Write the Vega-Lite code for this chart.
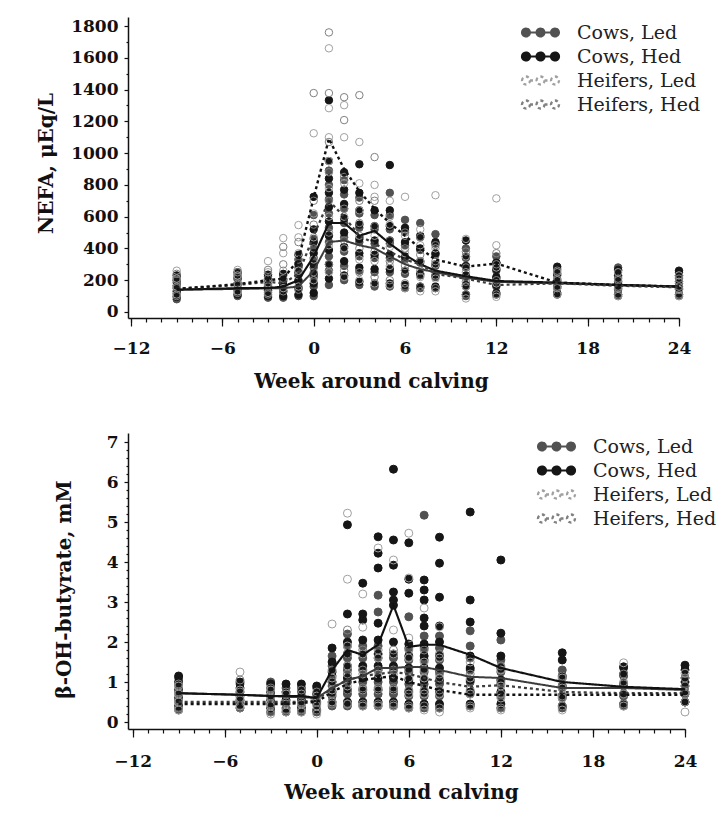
{
"$schema":"https://vega.github.io/schema/vega-lite/v6.json",
"padding":{"left":35,"top":17,"right":5,"bottom":5},
"background":"white",
"config":{"view":{"stroke":null},"font":"DejaVu Serif",
"axis":{"domainColor":"#111","domainWidth":1.5,"tickColor":"#111","tickWidth":1.2,"grid":false,"labelFont":"DejaVu Serif","labelFontWeight":"bold","labelFontSize":17,"labelColor":"#111","titleFont":"DejaVu Serif","titleFontWeight":"bold","titleFontSize":20,"titleColor":"#111","labelOverlap":false,"labelFlush":false}},
"datasets":{
"np":[
{"w":-9,"g":"CL","v":80},{"w":-9,"g":"CL","v":115},{"w":-9,"g":"CL","v":150},{"w":-9,"g":"CL","v":185},{"w":-9,"g":"CL","v":215},
{"w":-5,"g":"CL","v":100},{"w":-5,"g":"CL","v":135},{"w":-5,"g":"CL","v":170},{"w":-5,"g":"CL","v":205},{"w":-5,"g":"CL","v":235},
{"w":-3,"g":"CL","v":90},{"w":-3,"g":"CL","v":125},{"w":-3,"g":"CL","v":160},{"w":-3,"g":"CL","v":195},{"w":-3,"g":"CL","v":225},
{"w":-2,"g":"CL","v":90},{"w":-2,"g":"CL","v":125},{"w":-2,"g":"CL","v":160},{"w":-2,"g":"CL","v":195},{"w":-2,"g":"CL","v":230},
{"w":-1,"g":"CL","v":100},{"w":-1,"g":"CL","v":145},{"w":-1,"g":"CL","v":190},{"w":-1,"g":"CL","v":235},{"w":-1,"g":"CL","v":280},{"w":-1,"g":"CL","v":330},
{"w":0,"g":"CL","v":100},{"w":0,"g":"CL","v":160},{"w":0,"g":"CL","v":220},{"w":0,"g":"CL","v":280},{"w":0,"g":"CL","v":340},{"w":0,"g":"CL","v":400},{"w":0,"g":"CL","v":460},{"w":0,"g":"CL","v":610},
{"w":1,"g":"CL","v":170},{"w":1,"g":"CL","v":260},{"w":1,"g":"CL","v":350},{"w":1,"g":"CL","v":440},{"w":1,"g":"CL","v":530},{"w":1,"g":"CL","v":620},{"w":1,"g":"CL","v":710},{"w":1,"g":"CL","v":800},{"w":1,"g":"CL","v":890},
{"w":2,"g":"CL","v":200},{"w":2,"g":"CL","v":290},{"w":2,"g":"CL","v":380},{"w":2,"g":"CL","v":470},{"w":2,"g":"CL","v":560},{"w":2,"g":"CL","v":650},{"w":2,"g":"CL","v":740},{"w":2,"g":"CL","v":830},
{"w":3,"g":"CL","v":170},{"w":3,"g":"CL","v":260},{"w":3,"g":"CL","v":350},{"w":3,"g":"CL","v":440},{"w":3,"g":"CL","v":530},{"w":3,"g":"CL","v":620},{"w":3,"g":"CL","v":720},
{"w":4,"g":"CL","v":160},{"w":4,"g":"CL","v":250},{"w":4,"g":"CL","v":340},{"w":4,"g":"CL","v":430},{"w":4,"g":"CL","v":520},{"w":4,"g":"CL","v":610},
{"w":5,"g":"CL","v":160},{"w":5,"g":"CL","v":250},{"w":5,"g":"CL","v":340},{"w":5,"g":"CL","v":430},{"w":5,"g":"CL","v":520},{"w":5,"g":"CL","v":610},{"w":5,"g":"CL","v":750},
{"w":6,"g":"CL","v":150},{"w":6,"g":"CL","v":240},{"w":6,"g":"CL","v":330},{"w":6,"g":"CL","v":420},{"w":6,"g":"CL","v":510},{"w":6,"g":"CL","v":580},
{"w":7,"g":"CL","v":150},{"w":7,"g":"CL","v":230},{"w":7,"g":"CL","v":310},{"w":7,"g":"CL","v":390},{"w":7,"g":"CL","v":470},{"w":7,"g":"CL","v":560},
{"w":8,"g":"CL","v":150},{"w":8,"g":"CL","v":220},{"w":8,"g":"CL","v":290},{"w":8,"g":"CL","v":360},{"w":8,"g":"CL","v":430},{"w":8,"g":"CL","v":490},
{"w":10,"g":"CL","v":100},{"w":10,"g":"CL","v":160},{"w":10,"g":"CL","v":220},{"w":10,"g":"CL","v":280},{"w":10,"g":"CL","v":340},{"w":10,"g":"CL","v":400},
{"w":12,"g":"CL","v":110},{"w":12,"g":"CL","v":160},{"w":12,"g":"CL","v":210},{"w":12,"g":"CL","v":260},{"w":12,"g":"CL","v":310},{"w":12,"g":"CL","v":350},
{"w":16,"g":"CL","v":110},{"w":16,"g":"CL","v":150},{"w":16,"g":"CL","v":190},{"w":16,"g":"CL","v":230},{"w":16,"g":"CL","v":270},
{"w":20,"g":"CL","v":100},{"w":20,"g":"CL","v":140},{"w":20,"g":"CL","v":180},{"w":20,"g":"CL","v":220},{"w":20,"g":"CL","v":260},{"w":20,"g":"CL","v":280},
{"w":24,"g":"CL","v":100},{"w":24,"g":"CL","v":140},{"w":24,"g":"CL","v":180},{"w":24,"g":"CL","v":220},{"w":24,"g":"CL","v":250},
{"w":-9,"g":"CH","v":95},{"w":-9,"g":"CH","v":130},{"w":-9,"g":"CH","v":165},{"w":-9,"g":"CH","v":200},{"w":-9,"g":"CH","v":230},
{"w":-5,"g":"CH","v":110},{"w":-5,"g":"CH","v":145},{"w":-5,"g":"CH","v":180},{"w":-5,"g":"CH","v":215},{"w":-5,"g":"CH","v":250},
{"w":-3,"g":"CH","v":100},{"w":-3,"g":"CH","v":135},{"w":-3,"g":"CH","v":170},{"w":-3,"g":"CH","v":205},{"w":-3,"g":"CH","v":235},
{"w":-2,"g":"CH","v":100},{"w":-2,"g":"CH","v":135},{"w":-2,"g":"CH","v":170},{"w":-2,"g":"CH","v":205},{"w":-2,"g":"CH","v":240},
{"w":-1,"g":"CH","v":110},{"w":-1,"g":"CH","v":155},{"w":-1,"g":"CH","v":200},{"w":-1,"g":"CH","v":250},{"w":-1,"g":"CH","v":300},{"w":-1,"g":"CH","v":360},
{"w":0,"g":"CH","v":120},{"w":0,"g":"CH","v":180},{"w":0,"g":"CH","v":240},{"w":0,"g":"CH","v":300},{"w":0,"g":"CH","v":370},{"w":0,"g":"CH","v":440},{"w":0,"g":"CH","v":520},{"w":0,"g":"CH","v":725},
{"w":1,"g":"CH","v":210},{"w":1,"g":"CH","v":300},{"w":1,"g":"CH","v":390},{"w":1,"g":"CH","v":480},{"w":1,"g":"CH","v":570},{"w":1,"g":"CH","v":660},{"w":1,"g":"CH","v":750},{"w":1,"g":"CH","v":840},{"w":1,"g":"CH","v":950},{"w":1,"g":"CH","v":1333},
{"w":2,"g":"CH","v":230},{"w":2,"g":"CH","v":320},{"w":2,"g":"CH","v":410},{"w":2,"g":"CH","v":500},{"w":2,"g":"CH","v":590},{"w":2,"g":"CH","v":680},{"w":2,"g":"CH","v":770},{"w":2,"g":"CH","v":880},
{"w":3,"g":"CH","v":190},{"w":3,"g":"CH","v":280},{"w":3,"g":"CH","v":370},{"w":3,"g":"CH","v":460},{"w":3,"g":"CH","v":550},{"w":3,"g":"CH","v":640},{"w":3,"g":"CH","v":750},{"w":3,"g":"CH","v":930},
{"w":4,"g":"CH","v":180},{"w":4,"g":"CH","v":270},{"w":4,"g":"CH","v":360},{"w":4,"g":"CH","v":450},{"w":4,"g":"CH","v":540},{"w":4,"g":"CH","v":640},
{"w":5,"g":"CH","v":180},{"w":5,"g":"CH","v":270},{"w":5,"g":"CH","v":360},{"w":5,"g":"CH","v":450},{"w":5,"g":"CH","v":540},{"w":5,"g":"CH","v":640},{"w":5,"g":"CH","v":925},
{"w":6,"g":"CH","v":170},{"w":6,"g":"CH","v":260},{"w":6,"g":"CH","v":350},{"w":6,"g":"CH","v":440},{"w":6,"g":"CH","v":530},
{"w":7,"g":"CH","v":160},{"w":7,"g":"CH","v":240},{"w":7,"g":"CH","v":320},{"w":7,"g":"CH","v":400},{"w":7,"g":"CH","v":480},
{"w":8,"g":"CH","v":160},{"w":8,"g":"CH","v":230},{"w":8,"g":"CH","v":300},{"w":8,"g":"CH","v":370},{"w":8,"g":"CH","v":440},
{"w":10,"g":"CH","v":110},{"w":10,"g":"CH","v":170},{"w":10,"g":"CH","v":230},{"w":10,"g":"CH","v":290},{"w":10,"g":"CH","v":350},{"w":10,"g":"CH","v":450},
{"w":12,"g":"CH","v":120},{"w":12,"g":"CH","v":170},{"w":12,"g":"CH","v":220},{"w":12,"g":"CH","v":270},{"w":12,"g":"CH","v":310},
{"w":16,"g":"CH","v":120},{"w":16,"g":"CH","v":160},{"w":16,"g":"CH","v":200},{"w":16,"g":"CH","v":240},{"w":16,"g":"CH","v":285},
{"w":20,"g":"CH","v":110},{"w":20,"g":"CH","v":150},{"w":20,"g":"CH","v":190},{"w":20,"g":"CH","v":230},{"w":20,"g":"CH","v":265},
{"w":24,"g":"CH","v":110},{"w":24,"g":"CH","v":150},{"w":24,"g":"CH","v":190},{"w":24,"g":"CH","v":230},{"w":24,"g":"CH","v":260},
{"w":-9,"g":"HL","v":110},{"w":-9,"g":"HL","v":160},{"w":-9,"g":"HL","v":210},{"w":-9,"g":"HL","v":260},
{"w":-5,"g":"HL","v":130},{"w":-5,"g":"HL","v":180},{"w":-5,"g":"HL","v":230},{"w":-5,"g":"HL","v":265},
{"w":-3,"g":"HL","v":120},{"w":-3,"g":"HL","v":180},{"w":-3,"g":"HL","v":250},{"w":-3,"g":"HL","v":320},
{"w":-2,"g":"HL","v":150},{"w":-2,"g":"HL","v":260},{"w":-2,"g":"HL","v":370},{"w":-2,"g":"HL","v":465},
{"w":-1,"g":"HL","v":160},{"w":-1,"g":"HL","v":260},{"w":-1,"g":"HL","v":370},{"w":-1,"g":"HL","v":470},{"w":-1,"g":"HL","v":547},
{"w":0,"g":"HL","v":200},{"w":0,"g":"HL","v":330},{"w":0,"g":"HL","v":470},{"w":0,"g":"HL","v":620},{"w":0,"g":"HL","v":1125},
{"w":1,"g":"HL","v":250},{"w":1,"g":"HL","v":420},{"w":1,"g":"HL","v":600},{"w":1,"g":"HL","v":780},{"w":1,"g":"HL","v":950},{"w":1,"g":"HL","v":1100},{"w":1,"g":"HL","v":1283},{"w":1,"g":"HL","v":1660},
{"w":2,"g":"HL","v":220},{"w":2,"g":"HL","v":400},{"w":2,"g":"HL","v":600},{"w":2,"g":"HL","v":811},{"w":2,"g":"HL","v":1100},{"w":2,"g":"HL","v":1302},
{"w":3,"g":"HL","v":200},{"w":3,"g":"HL","v":330},{"w":3,"g":"HL","v":480},{"w":3,"g":"HL","v":640},{"w":3,"g":"HL","v":810},{"w":3,"g":"HL","v":1070},
{"w":4,"g":"HL","v":180},{"w":4,"g":"HL","v":320},{"w":4,"g":"HL","v":480},{"w":4,"g":"HL","v":725},{"w":4,"g":"HL","v":800},
{"w":5,"g":"HL","v":170},{"w":5,"g":"HL","v":290},{"w":5,"g":"HL","v":410},{"w":5,"g":"HL","v":550},{"w":5,"g":"HL","v":700},
{"w":6,"g":"HL","v":150},{"w":6,"g":"HL","v":260},{"w":6,"g":"HL","v":370},{"w":6,"g":"HL","v":480},{"w":6,"g":"HL","v":725},
{"w":7,"g":"HL","v":130},{"w":7,"g":"HL","v":220},{"w":7,"g":"HL","v":320},{"w":7,"g":"HL","v":420},{"w":7,"g":"HL","v":520},
{"w":8,"g":"HL","v":130},{"w":8,"g":"HL","v":210},{"w":8,"g":"HL","v":300},{"w":8,"g":"HL","v":400},{"w":8,"g":"HL","v":735},
{"w":10,"g":"HL","v":85},{"w":10,"g":"HL","v":160},{"w":10,"g":"HL","v":250},{"w":10,"g":"HL","v":350},{"w":10,"g":"HL","v":460},
{"w":12,"g":"HL","v":95},{"w":12,"g":"HL","v":180},{"w":12,"g":"HL","v":280},{"w":12,"g":"HL","v":420},{"w":12,"g":"HL","v":715},
{"w":16,"g":"HL","v":110},{"w":16,"g":"HL","v":150},{"w":16,"g":"HL","v":200},{"w":16,"g":"HL","v":250},
{"w":20,"g":"HL","v":100},{"w":20,"g":"HL","v":150},{"w":20,"g":"HL","v":200},{"w":20,"g":"HL","v":250},
{"w":24,"g":"HL","v":100},{"w":24,"g":"HL","v":140},{"w":24,"g":"HL","v":190},{"w":24,"g":"HL","v":230},
{"w":-9,"g":"HH","v":100},{"w":-9,"g":"HH","v":150},{"w":-9,"g":"HH","v":200},{"w":-9,"g":"HH","v":240},
{"w":-5,"g":"HH","v":120},{"w":-5,"g":"HH","v":170},{"w":-5,"g":"HH","v":220},{"w":-5,"g":"HH","v":250},
{"w":-3,"g":"HH","v":110},{"w":-3,"g":"HH","v":160},{"w":-3,"g":"HH","v":210},{"w":-3,"g":"HH","v":265},
{"w":-2,"g":"HH","v":130},{"w":-2,"g":"HH","v":210},{"w":-2,"g":"HH","v":300},{"w":-2,"g":"HH","v":410},
{"w":-1,"g":"HH","v":140},{"w":-1,"g":"HH","v":230},{"w":-1,"g":"HH","v":330},{"w":-1,"g":"HH","v":440},
{"w":0,"g":"HH","v":250},{"w":0,"g":"HH","v":400},{"w":0,"g":"HH","v":550},{"w":0,"g":"HH","v":700},{"w":0,"g":"HH","v":1378},
{"w":1,"g":"HH","v":300},{"w":1,"g":"HH","v":500},{"w":1,"g":"HH","v":700},{"w":1,"g":"HH","v":880},{"w":1,"g":"HH","v":1070},{"w":1,"g":"HH","v":1378},{"w":1,"g":"HH","v":1760},
{"w":2,"g":"HH","v":260},{"w":2,"g":"HH","v":450},{"w":2,"g":"HH","v":650},{"w":2,"g":"HH","v":850},{"w":2,"g":"HH","v":1208},{"w":2,"g":"HH","v":1352},
{"w":3,"g":"HH","v":250},{"w":3,"g":"HH","v":400},{"w":3,"g":"HH","v":560},{"w":3,"g":"HH","v":700},{"w":3,"g":"HH","v":1365},
{"w":4,"g":"HH","v":220},{"w":4,"g":"HH","v":380},{"w":4,"g":"HH","v":540},{"w":4,"g":"HH","v":700},{"w":4,"g":"HH","v":975},
{"w":5,"g":"HH","v":200},{"w":5,"g":"HH","v":320},{"w":5,"g":"HH","v":450},{"w":5,"g":"HH","v":600},
{"w":6,"g":"HH","v":180},{"w":6,"g":"HH","v":290},{"w":6,"g":"HH","v":400},{"w":6,"g":"HH","v":500},
{"w":7,"g":"HH","v":160},{"w":7,"g":"HH","v":260},{"w":7,"g":"HH","v":360},{"w":7,"g":"HH","v":470},
{"w":8,"g":"HH","v":150},{"w":8,"g":"HH","v":230},{"w":8,"g":"HH","v":320},{"w":8,"g":"HH","v":420},
{"w":10,"g":"HH","v":110},{"w":10,"g":"HH","v":190},{"w":10,"g":"HH","v":280},{"w":10,"g":"HH","v":380},
{"w":12,"g":"HH","v":110},{"w":12,"g":"HH","v":200},{"w":12,"g":"HH","v":300},{"w":12,"g":"HH","v":370},
{"w":16,"g":"HH","v":110},{"w":16,"g":"HH","v":160},{"w":16,"g":"HH","v":210},{"w":16,"g":"HH","v":260},
{"w":20,"g":"HH","v":110},{"w":20,"g":"HH","v":160},{"w":20,"g":"HH","v":210},
{"w":24,"g":"HH","v":110},{"w":24,"g":"HH","v":160},{"w":24,"g":"HH","v":210}
],
"nm":[
{"w":-9,"g":"CL","v":140},{"w":-5,"g":"CL","v":145},{"w":-3,"g":"CL","v":150},{"w":-2,"g":"CL","v":150},{"w":-1,"g":"CL","v":160},{"w":0,"g":"CL","v":260},{"w":1,"g":"CL","v":440},{"w":2,"g":"CL","v":450},{"w":3,"g":"CL","v":420},{"w":4,"g":"CL","v":400},{"w":5,"g":"CL","v":350},{"w":6,"g":"CL","v":300},{"w":7,"g":"CL","v":270},{"w":8,"g":"CL","v":250},{"w":10,"g":"CL","v":215},{"w":12,"g":"CL","v":190},{"w":16,"g":"CL","v":180},{"w":20,"g":"CL","v":170},{"w":24,"g":"CL","v":160},
{"w":-9,"g":"CH","v":140},{"w":-5,"g":"CH","v":150},{"w":-3,"g":"CH","v":150},{"w":-2,"g":"CH","v":160},{"w":-1,"g":"CH","v":200},{"w":0,"g":"CH","v":350},{"w":1,"g":"CH","v":560},{"w":2,"g":"CH","v":560},{"w":3,"g":"CH","v":480},{"w":4,"g":"CH","v":510},{"w":5,"g":"CH","v":430},{"w":6,"g":"CH","v":360},{"w":7,"g":"CH","v":300},{"w":8,"g":"CH","v":260},{"w":10,"g":"CH","v":225},{"w":12,"g":"CH","v":195},{"w":16,"g":"CH","v":185},{"w":20,"g":"CH","v":170},{"w":24,"g":"CH","v":160},
{"w":-9,"g":"HL","v":145},{"w":-5,"g":"HL","v":170},{"w":-3,"g":"HL","v":190},{"w":-2,"g":"HL","v":180},{"w":-1,"g":"HL","v":240},{"w":0,"g":"HL","v":480},{"w":1,"g":"HL","v":700},{"w":2,"g":"HL","v":600},{"w":3,"g":"HL","v":480},{"w":4,"g":"HL","v":430},{"w":5,"g":"HL","v":380},{"w":6,"g":"HL","v":330},{"w":7,"g":"HL","v":300},{"w":8,"g":"HL","v":240},{"w":10,"g":"HL","v":210},{"w":12,"g":"HL","v":170},{"w":16,"g":"HL","v":180},{"w":20,"g":"HL","v":165},{"w":24,"g":"HL","v":155},
{"w":-9,"g":"HH","v":145},{"w":-5,"g":"HH","v":175},{"w":-3,"g":"HH","v":200},{"w":-2,"g":"HH","v":210},{"w":-1,"g":"HH","v":330},{"w":0,"g":"HH","v":720},{"w":1,"g":"HH","v":1090},{"w":2,"g":"HH","v":900},{"w":3,"g":"HH","v":760},{"w":4,"g":"HH","v":650},{"w":5,"g":"HH","v":560},{"w":6,"g":"HH","v":480},{"w":7,"g":"HH","v":400},{"w":8,"g":"HH","v":330},{"w":10,"g":"HH","v":285},{"w":12,"g":"HH","v":305},{"w":16,"g":"HH","v":185},{"w":20,"g":"HH","v":170},{"w":24,"g":"HH","v":160}
],
"bp":[
{"w":-9,"g":"CL","v":0.3},{"w":-9,"g":"CL","v":0.5},{"w":-9,"g":"CL","v":0.7},{"w":-9,"g":"CL","v":0.9},{"w":-9,"g":"CL","v":1.1},
{"w":-5,"g":"CL","v":0.35},{"w":-5,"g":"CL","v":0.55},{"w":-5,"g":"CL","v":0.75},{"w":-5,"g":"CL","v":0.95},
{"w":-3,"g":"CL","v":0.25},{"w":-3,"g":"CL","v":0.45},{"w":-3,"g":"CL","v":0.65},{"w":-3,"g":"CL","v":0.85},{"w":-3,"g":"CL","v":1.0},
{"w":-2,"g":"CL","v":0.25},{"w":-2,"g":"CL","v":0.45},{"w":-2,"g":"CL","v":0.65},{"w":-2,"g":"CL","v":0.85},
{"w":-1,"g":"CL","v":0.25},{"w":-1,"g":"CL","v":0.45},{"w":-1,"g":"CL","v":0.65},{"w":-1,"g":"CL","v":0.85},
{"w":0,"g":"CL","v":0.25},{"w":0,"g":"CL","v":0.45},{"w":0,"g":"CL","v":0.65},{"w":0,"g":"CL","v":0.85},
{"w":1,"g":"CL","v":0.4},{"w":1,"g":"CL","v":0.65},{"w":1,"g":"CL","v":0.9},{"w":1,"g":"CL","v":1.15},{"w":1,"g":"CL","v":1.4},{"w":1,"g":"CL","v":1.65},
{"w":2,"g":"CL","v":0.4},{"w":2,"g":"CL","v":0.7},{"w":2,"g":"CL","v":1.0},{"w":2,"g":"CL","v":1.3},{"w":2,"g":"CL","v":1.6},{"w":2,"g":"CL","v":1.9},{"w":2,"g":"CL","v":2.2},
{"w":3,"g":"CL","v":0.4},{"w":3,"g":"CL","v":0.7},{"w":3,"g":"CL","v":1.0},{"w":3,"g":"CL","v":1.3},{"w":3,"g":"CL","v":1.6},{"w":3,"g":"CL","v":1.9},
{"w":4,"g":"CL","v":0.4},{"w":4,"g":"CL","v":0.7},{"w":4,"g":"CL","v":1.0},{"w":4,"g":"CL","v":1.3},{"w":4,"g":"CL","v":1.6},{"w":4,"g":"CL","v":1.9},{"w":4,"g":"CL","v":2.75},{"w":4,"g":"CL","v":3.17},
{"w":5,"g":"CL","v":0.4},{"w":5,"g":"CL","v":0.7},{"w":5,"g":"CL","v":1.0},{"w":5,"g":"CL","v":1.3},{"w":5,"g":"CL","v":1.6},
{"w":6,"g":"CL","v":0.35},{"w":6,"g":"CL","v":0.65},{"w":6,"g":"CL","v":0.95},{"w":6,"g":"CL","v":1.25},{"w":6,"g":"CL","v":1.55},{"w":6,"g":"CL","v":1.85},{"w":6,"g":"CL","v":2.63},
{"w":7,"g":"CL","v":0.35},{"w":7,"g":"CL","v":0.65},{"w":7,"g":"CL","v":0.95},{"w":7,"g":"CL","v":1.25},{"w":7,"g":"CL","v":1.55},{"w":7,"g":"CL","v":1.85},{"w":7,"g":"CL","v":2.15},{"w":7,"g":"CL","v":5.17},
{"w":8,"g":"CL","v":0.35},{"w":8,"g":"CL","v":0.65},{"w":8,"g":"CL","v":0.95},{"w":8,"g":"CL","v":1.25},{"w":8,"g":"CL","v":1.55},{"w":8,"g":"CL","v":1.85},{"w":8,"g":"CL","v":2.15},
{"w":10,"g":"CL","v":0.4},{"w":10,"g":"CL","v":0.7},{"w":10,"g":"CL","v":1.0},{"w":10,"g":"CL","v":1.3},{"w":10,"g":"CL","v":1.6},{"w":10,"g":"CL","v":1.9},{"w":10,"g":"CL","v":2.28},
{"w":12,"g":"CL","v":0.35},{"w":12,"g":"CL","v":0.65},{"w":12,"g":"CL","v":0.95},{"w":12,"g":"CL","v":1.25},{"w":12,"g":"CL","v":1.55},{"w":12,"g":"CL","v":2.05},
{"w":16,"g":"CL","v":0.35},{"w":16,"g":"CL","v":0.6},{"w":16,"g":"CL","v":0.85},{"w":16,"g":"CL","v":1.1},{"w":16,"g":"CL","v":1.3},
{"w":20,"g":"CL","v":0.4},{"w":20,"g":"CL","v":0.65},{"w":20,"g":"CL","v":0.9},{"w":20,"g":"CL","v":1.15},{"w":20,"g":"CL","v":1.35},
{"w":24,"g":"CL","v":0.5},{"w":24,"g":"CL","v":0.7},{"w":24,"g":"CL","v":0.9},{"w":24,"g":"CL","v":1.1},
{"w":-9,"g":"CH","v":0.4},{"w":-9,"g":"CH","v":0.6},{"w":-9,"g":"CH","v":0.8},{"w":-9,"g":"CH","v":1.0},{"w":-9,"g":"CH","v":1.15},
{"w":-5,"g":"CH","v":0.45},{"w":-5,"g":"CH","v":0.65},{"w":-5,"g":"CH","v":0.85},{"w":-5,"g":"CH","v":1.0},
{"w":-3,"g":"CH","v":0.35},{"w":-3,"g":"CH","v":0.55},{"w":-3,"g":"CH","v":0.75},{"w":-3,"g":"CH","v":0.95},
{"w":-2,"g":"CH","v":0.35},{"w":-2,"g":"CH","v":0.55},{"w":-2,"g":"CH","v":0.75},{"w":-2,"g":"CH","v":0.95},
{"w":-1,"g":"CH","v":0.35},{"w":-1,"g":"CH","v":0.55},{"w":-1,"g":"CH","v":0.75},{"w":-1,"g":"CH","v":0.95},
{"w":0,"g":"CH","v":0.3},{"w":0,"g":"CH","v":0.5},{"w":0,"g":"CH","v":0.7},{"w":0,"g":"CH","v":0.9},
{"w":1,"g":"CH","v":0.5},{"w":1,"g":"CH","v":0.75},{"w":1,"g":"CH","v":1.0},{"w":1,"g":"CH","v":1.25},{"w":1,"g":"CH","v":1.5},{"w":1,"g":"CH","v":1.85},
{"w":2,"g":"CH","v":0.5},{"w":2,"g":"CH","v":0.8},{"w":2,"g":"CH","v":1.1},{"w":2,"g":"CH","v":1.4},{"w":2,"g":"CH","v":1.7},{"w":2,"g":"CH","v":2.0},{"w":2,"g":"CH","v":2.7},{"w":2,"g":"CH","v":4.93},
{"w":3,"g":"CH","v":0.5},{"w":3,"g":"CH","v":0.8},{"w":3,"g":"CH","v":1.1},{"w":3,"g":"CH","v":1.4},{"w":3,"g":"CH","v":1.7},{"w":3,"g":"CH","v":2.05},{"w":3,"g":"CH","v":2.55},{"w":3,"g":"CH","v":2.7},{"w":3,"g":"CH","v":3.47},
{"w":4,"g":"CH","v":0.5},{"w":4,"g":"CH","v":0.8},{"w":4,"g":"CH","v":1.1},{"w":4,"g":"CH","v":1.4},{"w":4,"g":"CH","v":1.7},{"w":4,"g":"CH","v":2.05},{"w":4,"g":"CH","v":2.47},{"w":4,"g":"CH","v":3.85},{"w":4,"g":"CH","v":4.22},{"w":4,"g":"CH","v":4.63},
{"w":5,"g":"CH","v":0.5},{"w":5,"g":"CH","v":0.8},{"w":5,"g":"CH","v":1.1},{"w":5,"g":"CH","v":1.4},{"w":5,"g":"CH","v":1.7},{"w":5,"g":"CH","v":2.0},{"w":5,"g":"CH","v":2.92},{"w":5,"g":"CH","v":3.05},{"w":5,"g":"CH","v":3.25},{"w":5,"g":"CH","v":3.92},{"w":5,"g":"CH","v":4.55},{"w":5,"g":"CH","v":6.32},
{"w":6,"g":"CH","v":0.45},{"w":6,"g":"CH","v":0.75},{"w":6,"g":"CH","v":1.05},{"w":6,"g":"CH","v":1.35},{"w":6,"g":"CH","v":1.65},{"w":6,"g":"CH","v":1.95},{"w":6,"g":"CH","v":3.22},{"w":6,"g":"CH","v":3.57},{"w":6,"g":"CH","v":4.48},
{"w":7,"g":"CH","v":0.45},{"w":7,"g":"CH","v":0.75},{"w":7,"g":"CH","v":1.05},{"w":7,"g":"CH","v":1.35},{"w":7,"g":"CH","v":1.65},{"w":7,"g":"CH","v":1.95},{"w":7,"g":"CH","v":2.4},{"w":7,"g":"CH","v":2.6},{"w":7,"g":"CH","v":3.05},{"w":7,"g":"CH","v":3.3},{"w":7,"g":"CH","v":3.55},
{"w":8,"g":"CH","v":0.45},{"w":8,"g":"CH","v":0.75},{"w":8,"g":"CH","v":1.05},{"w":8,"g":"CH","v":1.35},{"w":8,"g":"CH","v":1.65},{"w":8,"g":"CH","v":2.0},{"w":8,"g":"CH","v":2.4},{"w":8,"g":"CH","v":3.12},{"w":8,"g":"CH","v":3.97},{"w":8,"g":"CH","v":4.62},
{"w":10,"g":"CH","v":0.45},{"w":10,"g":"CH","v":0.75},{"w":10,"g":"CH","v":1.05},{"w":10,"g":"CH","v":1.35},{"w":10,"g":"CH","v":1.65},{"w":10,"g":"CH","v":2.5},{"w":10,"g":"CH","v":3.05},{"w":10,"g":"CH","v":5.25},
{"w":12,"g":"CH","v":0.45},{"w":12,"g":"CH","v":0.75},{"w":12,"g":"CH","v":1.05},{"w":12,"g":"CH","v":1.35},{"w":12,"g":"CH","v":1.65},{"w":12,"g":"CH","v":2.22},{"w":12,"g":"CH","v":4.05},
{"w":16,"g":"CH","v":0.4},{"w":16,"g":"CH","v":0.65},{"w":16,"g":"CH","v":0.9},{"w":16,"g":"CH","v":1.15},{"w":16,"g":"CH","v":1.55},{"w":16,"g":"CH","v":1.73},
{"w":20,"g":"CH","v":0.45},{"w":20,"g":"CH","v":0.7},{"w":20,"g":"CH","v":0.95},{"w":20,"g":"CH","v":1.2},{"w":20,"g":"CH","v":1.38},
{"w":24,"g":"CH","v":0.5},{"w":24,"g":"CH","v":0.75},{"w":24,"g":"CH","v":1.0},{"w":24,"g":"CH","v":1.3},{"w":24,"g":"CH","v":1.42},
{"w":-9,"g":"HL","v":0.3},{"w":-9,"g":"HL","v":0.5},{"w":-9,"g":"HL","v":0.7},{"w":-9,"g":"HL","v":0.9},
{"w":-5,"g":"HL","v":0.4},{"w":-5,"g":"HL","v":0.6},{"w":-5,"g":"HL","v":0.8},{"w":-5,"g":"HL","v":1.25},
{"w":-3,"g":"HL","v":0.2},{"w":-3,"g":"HL","v":0.4},{"w":-3,"g":"HL","v":0.6},{"w":-3,"g":"HL","v":0.8},
{"w":-2,"g":"HL","v":0.25},{"w":-2,"g":"HL","v":0.45},{"w":-2,"g":"HL","v":0.7},
{"w":-1,"g":"HL","v":0.25},{"w":-1,"g":"HL","v":0.45},{"w":-1,"g":"HL","v":0.7},
{"w":0,"g":"HL","v":0.2},{"w":0,"g":"HL","v":0.4},{"w":0,"g":"HL","v":0.65},
{"w":1,"g":"HL","v":0.5},{"w":1,"g":"HL","v":0.8},{"w":1,"g":"HL","v":1.1},{"w":1,"g":"HL","v":2.45},
{"w":2,"g":"HL","v":0.45},{"w":2,"g":"HL","v":0.9},{"w":2,"g":"HL","v":1.4},{"w":2,"g":"HL","v":1.9},{"w":2,"g":"HL","v":3.57},{"w":2,"g":"HL","v":5.22},
{"w":3,"g":"HL","v":0.4},{"w":3,"g":"HL","v":0.8},{"w":3,"g":"HL","v":1.2},{"w":3,"g":"HL","v":1.7},{"w":3,"g":"HL","v":2.37},{"w":3,"g":"HL","v":3.2},
{"w":4,"g":"HL","v":0.4},{"w":4,"g":"HL","v":0.8},{"w":4,"g":"HL","v":1.2},{"w":4,"g":"HL","v":1.6},{"w":4,"g":"HL","v":4.35},
{"w":5,"g":"HL","v":0.4},{"w":5,"g":"HL","v":0.8},{"w":5,"g":"HL","v":1.2},{"w":5,"g":"HL","v":1.7},{"w":5,"g":"HL","v":2.3},{"w":5,"g":"HL","v":4.05},
{"w":6,"g":"HL","v":0.35},{"w":6,"g":"HL","v":0.7},{"w":6,"g":"HL","v":1.1},{"w":6,"g":"HL","v":1.6},{"w":6,"g":"HL","v":2.1},{"w":6,"g":"HL","v":3.6},{"w":6,"g":"HL","v":4.72},
{"w":7,"g":"HL","v":0.3},{"w":7,"g":"HL","v":0.7},{"w":7,"g":"HL","v":1.1},{"w":7,"g":"HL","v":1.5},{"w":7,"g":"HL","v":2.85},
{"w":8,"g":"HL","v":0.25},{"w":8,"g":"HL","v":0.7},{"w":8,"g":"HL","v":1.1},{"w":8,"g":"HL","v":1.6},{"w":8,"g":"HL","v":2.38},
{"w":10,"g":"HL","v":0.35},{"w":10,"g":"HL","v":0.7},{"w":10,"g":"HL","v":1.1},{"w":10,"g":"HL","v":1.5},
{"w":12,"g":"HL","v":0.3},{"w":12,"g":"HL","v":0.6},{"w":12,"g":"HL","v":0.9},{"w":12,"g":"HL","v":1.3},
{"w":16,"g":"HL","v":0.3},{"w":16,"g":"HL","v":0.6},{"w":16,"g":"HL","v":0.85},{"w":16,"g":"HL","v":1.1},
{"w":20,"g":"HL","v":0.4},{"w":20,"g":"HL","v":0.7},{"w":20,"g":"HL","v":1.0},{"w":20,"g":"HL","v":1.48},
{"w":24,"g":"HL","v":0.25},{"w":24,"g":"HL","v":0.5},{"w":24,"g":"HL","v":0.75},{"w":24,"g":"HL","v":1.22},
{"w":-9,"g":"HH","v":0.35},{"w":-9,"g":"HH","v":0.55},{"w":-9,"g":"HH","v":0.75},{"w":-9,"g":"HH","v":0.95},
{"w":-5,"g":"HH","v":0.35},{"w":-5,"g":"HH","v":0.55},{"w":-5,"g":"HH","v":0.75},{"w":-5,"g":"HH","v":1.05},
{"w":-3,"g":"HH","v":0.25},{"w":-3,"g":"HH","v":0.45},{"w":-3,"g":"HH","v":0.65},{"w":-3,"g":"HH","v":0.85},
{"w":-2,"g":"HH","v":0.3},{"w":-2,"g":"HH","v":0.5},{"w":-2,"g":"HH","v":0.75},
{"w":-1,"g":"HH","v":0.3},{"w":-1,"g":"HH","v":0.5},{"w":-1,"g":"HH","v":0.8},
{"w":0,"g":"HH","v":0.3},{"w":0,"g":"HH","v":0.5},{"w":0,"g":"HH","v":0.75},
{"w":1,"g":"HH","v":0.45},{"w":1,"g":"HH","v":0.7},{"w":1,"g":"HH","v":1.0},{"w":1,"g":"HH","v":1.3},
{"w":2,"g":"HH","v":0.45},{"w":2,"g":"HH","v":0.8},{"w":2,"g":"HH","v":1.2},{"w":2,"g":"HH","v":1.7},{"w":2,"g":"HH","v":2.3},
{"w":3,"g":"HH","v":0.45},{"w":3,"g":"HH","v":0.85},{"w":3,"g":"HH","v":1.3},{"w":3,"g":"HH","v":1.8},
{"w":4,"g":"HH","v":0.45},{"w":4,"g":"HH","v":0.85},{"w":4,"g":"HH","v":1.3},{"w":4,"g":"HH","v":1.8},
{"w":5,"g":"HH","v":0.45},{"w":5,"g":"HH","v":0.85},{"w":5,"g":"HH","v":1.3},{"w":5,"g":"HH","v":1.8},
{"w":6,"g":"HH","v":0.4},{"w":6,"g":"HH","v":0.8},{"w":6,"g":"HH","v":1.3},{"w":6,"g":"HH","v":1.8},
{"w":7,"g":"HH","v":0.4},{"w":7,"g":"HH","v":0.8},{"w":7,"g":"HH","v":1.3},{"w":7,"g":"HH","v":1.8},
{"w":8,"g":"HH","v":0.35},{"w":8,"g":"HH","v":0.8},{"w":8,"g":"HH","v":1.2},{"w":8,"g":"HH","v":1.7},
{"w":10,"g":"HH","v":0.4},{"w":10,"g":"HH","v":0.8},{"w":10,"g":"HH","v":1.2},{"w":10,"g":"HH","v":1.6},
{"w":12,"g":"HH","v":0.35},{"w":12,"g":"HH","v":0.7},{"w":12,"g":"HH","v":1.0},{"w":12,"g":"HH","v":1.4},
{"w":16,"g":"HH","v":0.4},{"w":16,"g":"HH","v":0.65},{"w":16,"g":"HH","v":0.9},{"w":16,"g":"HH","v":1.15},
{"w":20,"g":"HH","v":0.45},{"w":20,"g":"HH","v":0.7},{"w":20,"g":"HH","v":0.95},{"w":20,"g":"HH","v":1.2},
{"w":24,"g":"HH","v":0.5},{"w":24,"g":"HH","v":0.7},{"w":24,"g":"HH","v":0.9},{"w":24,"g":"HH","v":1.1}
],
"bm":[
{"w":-9,"g":"CL","v":0.72},{"w":-5,"g":"CL","v":0.68},{"w":-3,"g":"CL","v":0.65},{"w":-2,"g":"CL","v":0.63},{"w":-1,"g":"CL","v":0.62},{"w":0,"g":"CL","v":0.6},{"w":1,"g":"CL","v":0.85},{"w":2,"g":"CL","v":1.05},{"w":3,"g":"CL","v":1.15},{"w":4,"g":"CL","v":1.35},{"w":5,"g":"CL","v":1.35},{"w":6,"g":"CL","v":1.38},{"w":7,"g":"CL","v":1.37},{"w":8,"g":"CL","v":1.3},{"w":10,"g":"CL","v":1.13},{"w":12,"g":"CL","v":1.1},{"w":16,"g":"CL","v":0.85},{"w":20,"g":"CL","v":0.85},{"w":24,"g":"CL","v":0.8},
{"w":-9,"g":"CH","v":0.72},{"w":-5,"g":"CH","v":0.68},{"w":-3,"g":"CH","v":0.65},{"w":-2,"g":"CH","v":0.65},{"w":-1,"g":"CH","v":0.65},{"w":0,"g":"CH","v":0.6},{"w":1,"g":"CH","v":1.3},{"w":2,"g":"CH","v":1.8},{"w":3,"g":"CH","v":1.68},{"w":4,"g":"CH","v":1.93},{"w":5,"g":"CH","v":2.92},{"w":6,"g":"CH","v":1.88},{"w":7,"g":"CH","v":1.93},{"w":8,"g":"CH","v":1.93},{"w":10,"g":"CH","v":1.68},{"w":12,"g":"CH","v":1.35},{"w":16,"g":"CH","v":1.0},{"w":20,"g":"CH","v":0.88},{"w":24,"g":"CH","v":0.82},
{"w":-9,"g":"HL","v":0.5},{"w":-5,"g":"HL","v":0.5},{"w":-3,"g":"HL","v":0.5},{"w":-2,"g":"HL","v":0.5},{"w":-1,"g":"HL","v":0.5},{"w":0,"g":"HL","v":0.55},{"w":1,"g":"HL","v":0.85},{"w":2,"g":"HL","v":1.05},{"w":3,"g":"HL","v":1.15},{"w":4,"g":"HL","v":1.2},{"w":5,"g":"HL","v":1.25},{"w":6,"g":"HL","v":1.2},{"w":7,"g":"HL","v":1.1},{"w":8,"g":"HL","v":1.0},{"w":10,"g":"HL","v":0.88},{"w":12,"g":"HL","v":0.92},{"w":16,"g":"HL","v":0.75},{"w":20,"g":"HL","v":0.72},{"w":24,"g":"HL","v":0.72},
{"w":-9,"g":"HH","v":0.45},{"w":-5,"g":"HH","v":0.45},{"w":-3,"g":"HH","v":0.45},{"w":-2,"g":"HH","v":0.45},{"w":-1,"g":"HH","v":0.48},{"w":0,"g":"HH","v":0.5},{"w":1,"g":"HH","v":0.75},{"w":2,"g":"HH","v":0.95},{"w":3,"g":"HH","v":1.05},{"w":4,"g":"HH","v":1.1},{"w":5,"g":"HH","v":1.15},{"w":6,"g":"HH","v":1.0},{"w":7,"g":"HH","v":0.9},{"w":8,"g":"HH","v":0.8},{"w":10,"g":"HH","v":0.68},{"w":12,"g":"HH","v":0.68},{"w":16,"g":"HH","v":0.68},{"w":20,"g":"HH","v":0.68},{"w":24,"g":"HH","v":0.68}
]
},
"bounds":"flush",
"spacing":115,
"resolve":{"scale":{"fill":"independent","stroke":"independent","strokeDash":"independent","color":"independent","strokeWidth":"independent"},"legend":{"fill":"independent","stroke":"independent","strokeDash":"independent"}},
"vconcat":[
{
"width":551,"height":301,
"resolve":{"axis":{"x":"independent","y":"independent"}},
"layer":[
{"data":{"name":"np"},
"mark":{"type":"point","size":56,"strokeWidth":1,"opacity":1},
"encoding":{
"x":{"field":"w","type":"quantitative","scale":{"domain":[-12.2,24],"nice":false,"zero":false},
"axis":{"orient":"bottom","values":[-12,-6,0,6,12,18,24],"labelOverlap":false,"tickSize":8,"labelPadding":14,"title":"Week around calving","titleX":243,"titleY":53,"titleBaseline":"top"}},
"y":{"field":"v","type":"quantitative","scale":{"domain":[-38,1857],"nice":false,"zero":false},
"axis":{"orient":"left","values":[0,200,400,600,800,1000,1200,1400,1600,1800],"format":"d","labelOverlap":false,"tickSize":4,"labelPadding":6,"title":"NEFA, μEq/L","titleX":-72,"titleY":146,"titleBaseline":"bottom"}},
"fill":{"field":"g","type":"nominal","scale":{"domain":["CL","CH","HL","HH"],"range":["#525252","#161616","transparent","transparent"]},
"legend":{"title":null,"orient":"none","legendX":403,"legendY":6,"symbolType":"M-3.7,0A0.8,0.8 0 1,1 -2.1,0A0.8,0.8 0 1,1 -3.7,0Z M-2.1,0L-0.8,0 M-0.8,0A0.8,0.8 0 1,1 0.8,0A0.8,0.8 0 1,1 -0.8,0Z M0.8,0L2.1,0 M2.1,0A0.8,0.8 0 1,1 3.7,0A0.8,0.8 0 1,1 2.1,0Z","symbolSize":100,"symbolStrokeWidth":1.5,"labelFont":"DejaVu Serif","labelFontSize":19,"labelFontWeight":"normal","labelColor":"#222","labelOffset":27,"rowPadding":4,"padding":0,"labelExpr":"{'CL':'Cows, Led','CH':'Cows, Hed','HL':'Heifers, Led','HH':'Heifers, Hed'}[datum.label]"}},
"stroke":{"field":"g","type":"nominal","scale":{"domain":["CL","CH","HL","HH"],"range":["#525252","#161616","#a0a0a0","#808080"]},
"legend":{"title":null,"orient":"none","legendX":403,"legendY":6,"symbolType":"M-3.7,0A0.8,0.8 0 1,1 -2.1,0A0.8,0.8 0 1,1 -3.7,0Z M-2.1,0L-0.8,0 M-0.8,0A0.8,0.8 0 1,1 0.8,0A0.8,0.8 0 1,1 -0.8,0Z M0.8,0L2.1,0 M2.1,0A0.8,0.8 0 1,1 3.7,0A0.8,0.8 0 1,1 2.1,0Z","symbolSize":100,"symbolStrokeWidth":1.5,"labelFont":"DejaVu Serif","labelFontSize":19,"labelFontWeight":"normal","labelColor":"#222","labelOffset":27,"rowPadding":4,"padding":0,"labelExpr":"{'CL':'Cows, Led','CH':'Cows, Hed','HL':'Heifers, Led','HH':'Heifers, Hed'}[datum.label]"}}
}},
{"data":{"name":"nm"},
"mark":{"type":"line"},
"encoding":{
"x":{"field":"w","type":"quantitative","scale":{"domain":[-12.2,24],"nice":false,"zero":false},
"axis":{"orient":"bottom","values":[-12,-11,-10,-9,-8,-7,-6,-5,-4,-3,-2,-1,0,1,2,3,4,5,6,7,8,9,10,11,12,13,14,15,16,17,18,19,20,21,22,23,24],"labels":false,"domain":false,"tickSize":4,"title":null}},
"y":{"field":"v","type":"quantitative","scale":{"domain":[-38,1857],"nice":false,"zero":false},
"axis":{"orient":"left","values":[100,300,500,700,900,1100,1300,1500,1700],"labels":false,"domain":false,"tickSize":2,"title":null}},
"color":{"field":"g","type":"nominal","scale":{"domain":["CL","CH","HL","HH"],"range":["#3c3c3c","#111111","#3c3c3c","#111111"]},"legend":null},
"strokeDash":{"field":"g","type":"nominal","scale":{"domain":["CL","CH","HL","HH"],"range":[[1,0],[1,0],[3,3],[3,3]]},"legend":null},
"strokeWidth":{"field":"g","type":"nominal","scale":{"domain":["CL","CH","HL","HH"],"range":[2,2.4,3,3]},"legend":null}
}}
]
},
{
"width":557,"height":296,
"resolve":{"axis":{"x":"independent","y":"independent"}},
"layer":[
{"data":{"name":"bp"},
"mark":{"type":"point","size":64,"strokeWidth":1,"opacity":1},
"encoding":{
"x":{"field":"w","type":"quantitative","scale":{"domain":[-12.3,24],"nice":false,"zero":false},
"axis":{"orient":"bottom","values":[-12,-6,0,6,12,18,24],"labelOverlap":false,"tickSize":8,"labelPadding":16,"title":"Week around calving","titleX":273,"titleY":53,"titleBaseline":"top"}},
"y":{"field":"v","type":"quantitative","scale":{"domain":[-0.175,7.225],"nice":false,"zero":false},
"axis":{"orient":"left","values":[0,1,2,3,4,5,6,7],"labelOverlap":false,"tickSize":4,"labelPadding":6,"title":"β-OH-butyrate, mM","titleX":-54,"titleY":156,"titleBaseline":"bottom"}},
"fill":{"field":"g","type":"nominal","scale":{"domain":["CL","CH","HL","HH"],"range":["#525252","#161616","transparent","transparent"]},
"legend":{"title":null,"orient":"none","legendX":419,"legendY":4,"symbolType":"M-3.7,0A0.8,0.8 0 1,1 -2.1,0A0.8,0.8 0 1,1 -3.7,0Z M-2.1,0L-0.8,0 M-0.8,0A0.8,0.8 0 1,1 0.8,0A0.8,0.8 0 1,1 -0.8,0Z M0.8,0L2.1,0 M2.1,0A0.8,0.8 0 1,1 3.7,0A0.8,0.8 0 1,1 2.1,0Z","symbolSize":100,"symbolStrokeWidth":1.5,"labelFont":"DejaVu Serif","labelFontSize":19,"labelFontWeight":"normal","labelColor":"#222","labelOffset":27,"rowPadding":4,"padding":0,"labelExpr":"{'CL':'Cows, Led','CH':'Cows, Hed','HL':'Heifers, Led','HH':'Heifers, Hed'}[datum.label]"}},
"stroke":{"field":"g","type":"nominal","scale":{"domain":["CL","CH","HL","HH"],"range":["#525252","#161616","#a0a0a0","#808080"]},
"legend":{"title":null,"orient":"none","legendX":419,"legendY":4,"symbolType":"M-3.7,0A0.8,0.8 0 1,1 -2.1,0A0.8,0.8 0 1,1 -3.7,0Z M-2.1,0L-0.8,0 M-0.8,0A0.8,0.8 0 1,1 0.8,0A0.8,0.8 0 1,1 -0.8,0Z M0.8,0L2.1,0 M2.1,0A0.8,0.8 0 1,1 3.7,0A0.8,0.8 0 1,1 2.1,0Z","symbolSize":100,"symbolStrokeWidth":1.5,"labelFont":"DejaVu Serif","labelFontSize":19,"labelFontWeight":"normal","labelColor":"#222","labelOffset":27,"rowPadding":4,"padding":0,"labelExpr":"{'CL':'Cows, Led','CH':'Cows, Hed','HL':'Heifers, Led','HH':'Heifers, Hed'}[datum.label]"}}
}},
{"data":{"name":"bm"},
"mark":{"type":"line"},
"encoding":{
"x":{"field":"w","type":"quantitative","scale":{"domain":[-12.3,24],"nice":false,"zero":false},
"axis":{"orient":"bottom","values":[-12,-11,-10,-9,-8,-7,-6,-5,-4,-3,-2,-1,0,1,2,3,4,5,6,7,8,9,10,11,12,13,14,15,16,17,18,19,20,21,22,23,24],"labels":false,"domain":false,"tickSize":4,"title":null}},
"y":{"field":"v","type":"quantitative","scale":{"domain":[-0.175,7.225],"nice":false,"zero":false},
"axis":{"orient":"left","values":[0.2,0.4,0.6,0.8,1.2,1.4,1.6,1.8,2.2,2.4,2.6,2.8,3.2,3.4,3.6,3.8,4.2,4.4,4.6,4.8,5.2,5.4,5.6,5.8,6.2,6.4,6.6,6.8],"labels":false,"domain":false,"tickSize":2,"title":null}},
"color":{"field":"g","type":"nominal","scale":{"domain":["CL","CH","HL","HH"],"range":["#3c3c3c","#111111","#3c3c3c","#111111"]},"legend":null},
"strokeDash":{"field":"g","type":"nominal","scale":{"domain":["CL","CH","HL","HH"],"range":[[1,0],[1,0],[3,3],[3,3]]},"legend":null},
"strokeWidth":{"field":"g","type":"nominal","scale":{"domain":["CL","CH","HL","HH"],"range":[2,2.4,3,3]},"legend":null}
}}
]
}
]
}
